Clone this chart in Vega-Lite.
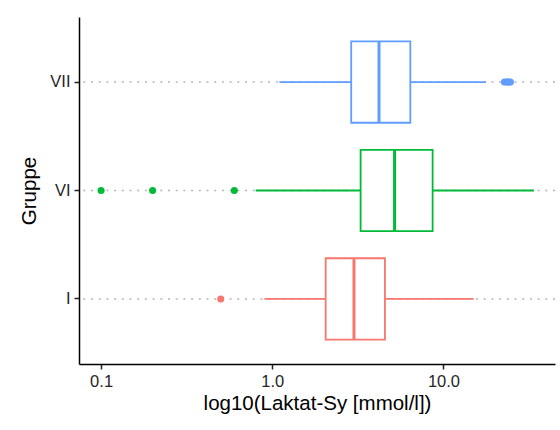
{
  "$schema": "https://vega.github.io/schema/vega-lite/v6.json",
  "autosize": {"type": "none"},
  "padding": {"left": 79, "top": 17, "right": 5, "bottom": 66},
  "width": 476,
  "height": 347,
  "background": "white",
  "datasets": {
    "boxes": [
      {"Gruppe": "I", "lower": 0.90, "q1": 2.05, "median": 3.0, "q3": 4.55, "upper": 15.0},
      {"Gruppe": "VI", "lower": 0.80, "q1": 3.28, "median": 5.18, "q3": 8.64, "upper": 33.8},
      {"Gruppe": "VII", "lower": 1.10, "q1": 2.89, "median": 4.20, "q3": 6.40, "upper": 17.7}
    ],
    "outliers": [
      {"Gruppe": "I", "value": 0.5},
      {"Gruppe": "VI", "value": 0.1},
      {"Gruppe": "VI", "value": 0.2},
      {"Gruppe": "VI", "value": 0.6},
      {"Gruppe": "VII", "value": 22.7},
      {"Gruppe": "VII", "value": 23.2},
      {"Gruppe": "VII", "value": 23.7},
      {"Gruppe": "VII", "value": 24.1},
      {"Gruppe": "VII", "value": 24.6}
    ]
  },
  "layer": [
    {
      "data": {"name": "boxes"},
      "mark": {"type": "rule", "strokeDash": [2, 5.7], "color": "#B5B5B5", "strokeWidth": 1.5},
      "encoding": {
        "y": {"field": "Gruppe", "type": "nominal", "title": "Gruppe",
              "scale": {"type": "band", "domain": ["VII", "VI", "I"], "paddingInner": 0.25, "paddingOuter": 0.225}}
      }
    },
    {
      "data": {"name": "boxes"},
      "mark": {"type": "rule", "strokeWidth": 1.8},
      "encoding": {
        "x": {"field": "lower", "type": "quantitative", "title": "log10(Laktat-Sy [mmol/l])",
              "scale": {"type": "log", "domain": [0.0743, 44.8], "nice": false, "zero": false},
              "axis": {"values": [0.1, 1, 10], "format": ".1f"}},
        "x2": {"field": "upper"},
        "y": {"field": "Gruppe", "type": "nominal", "title": "Gruppe",
              "scale": {"type": "band", "domain": ["VII", "VI", "I"], "paddingInner": 0.25, "paddingOuter": 0.225}},
        "color": {"field": "Gruppe", "type": "nominal", "legend": null,
                  "scale": {"domain": ["I", "VI", "VII"], "range": ["#F8766D", "#00BA38", "#619CFF"]}}
      }
    },
    {
      "data": {"name": "boxes"},
      "mark": {"type": "bar", "fill": "white", "strokeWidth": 1.8},
      "encoding": {
        "x": {"field": "q1", "type": "quantitative", "title": "log10(Laktat-Sy [mmol/l])",
              "scale": {"type": "log", "domain": [0.0743, 44.8], "nice": false, "zero": false}},
        "x2": {"field": "q3"},
        "y": {"field": "Gruppe", "type": "nominal", "title": "Gruppe",
              "scale": {"type": "band", "domain": ["VII", "VI", "I"], "paddingInner": 0.25, "paddingOuter": 0.225}},
        "stroke": {"field": "Gruppe", "type": "nominal", "legend": null,
                   "scale": {"domain": ["I", "VI", "VII"], "range": ["#F8766D", "#00BA38", "#619CFF"]}}
      }
    },
    {
      "data": {"name": "boxes"},
      "mark": {"type": "tick", "thickness": 3, "size": 81, "opacity": 1},
      "encoding": {
        "x": {"field": "median", "type": "quantitative", "title": "log10(Laktat-Sy [mmol/l])",
              "scale": {"type": "log", "domain": [0.0743, 44.8], "nice": false, "zero": false}},
        "y": {"field": "Gruppe", "type": "nominal", "title": "Gruppe",
              "scale": {"type": "band", "domain": ["VII", "VI", "I"], "paddingInner": 0.25, "paddingOuter": 0.225}},
        "color": {"field": "Gruppe", "type": "nominal", "legend": null,
                  "scale": {"domain": ["I", "VI", "VII"], "range": ["#F8766D", "#00BA38", "#619CFF"]}}
      }
    },
    {
      "data": {"name": "outliers"},
      "mark": {"type": "point", "shape": "circle", "filled": true, "size": 50, "opacity": 1},
      "encoding": {
        "x": {"field": "value", "type": "quantitative", "title": "log10(Laktat-Sy [mmol/l])",
              "scale": {"type": "log", "domain": [0.0743, 44.8], "nice": false, "zero": false}},
        "y": {"field": "Gruppe", "type": "nominal", "title": "Gruppe",
              "scale": {"type": "band", "domain": ["VII", "VI", "I"], "paddingInner": 0.25, "paddingOuter": 0.225}},
        "color": {"field": "Gruppe", "type": "nominal", "legend": null,
                  "scale": {"domain": ["I", "VI", "VII"], "range": ["#F8766D", "#00BA38", "#619CFF"]}}
      }
    }
  ],
  "config": {
    "font": "Liberation Sans",
    "view": {"stroke": null},
    "axis": {
      "domainColor": "black",
      "domainWidth": 1.5,
      "tickColor": "#222222",
      "tickWidth": 1.5,
      "tickSize": 5,
      "labelFont": "Liberation Sans",
      "labelFontSize": 16.5,
      "labelColor": "#262626",
      "labelPadding": 4,
      "titleFont": "Liberation Sans",
      "titleFontSize": 20.5,
      "titleFontWeight": "normal",
      "titleColor": "black",
      "grid": false
    },
    "axisX": {"titlePadding": 4},
    "axisY": {"titlePadding": 10, "tickBand": "center"}
  }
}
